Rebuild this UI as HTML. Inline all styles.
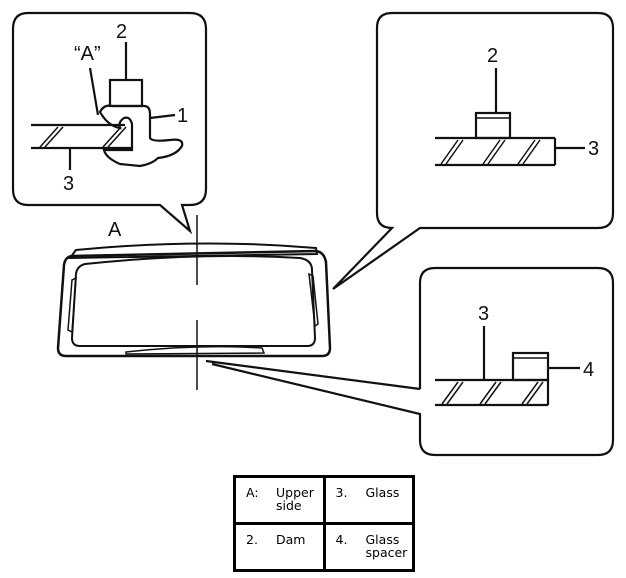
<!DOCTYPE html>
<html><head><meta charset="utf-8"><style>
body{margin:0;background:#fff;width:626px;height:578px;overflow:hidden}
svg{position:absolute;left:0;top:0}
.t{font-family:"Liberation Sans",sans-serif;font-size:20px;fill:#111}
table{position:absolute;left:233px;top:475px;width:182px;height:97px;border-collapse:collapse;border:3px solid #000;font-family:"DejaVu Sans","Liberation Sans",sans-serif;font-size:12.5px;line-height:13px}
td{border:3px solid #000;vertical-align:top;padding:8px 0 0 10px;width:50%}
span.n{display:inline-block;width:30px;vertical-align:top}
span.v{display:inline-block;vertical-align:top}
</style></head><body>
<svg width="626" height="578" viewBox="0 0 626 578" fill="none" stroke="#111" stroke-width="2.2">
<path d="M28 13 H190 Q206 13 206 29 V189 Q206 205 190 205 H182 L190 231 L160 205 H28 Q13 205 13 189 V29 Q13 13 28 13 Z"/>
<text class="t" x="116" y="38" stroke="none">2</text>
<text class="t" x="74" y="60" stroke="none" font-size="18">“A”</text>
<line x1="126" y1="42" x2="126" y2="80"/>
<rect x="110" y="80" width="32" height="26"/>
<line x1="90" y1="68" x2="98" y2="115"/>
<path d="M100 112 Q104 104 112 106 H144 Q150 106 150 114 V138 Q152 142 170 140 Q184 138 182 146 Q176 156 158 158 Q152 164 140 166 L120 164 Q106 158 104 150 H132 V124 Q130 116 124 118 Q118 122 120 128 Q108 126 100 112 Z"/>
<line x1="150" y1="118" x2="175" y2="115"/>
<text class="t" x="177" y="122" stroke="none">1</text>
<line x1="31" y1="125" x2="125" y2="125"/>
<line x1="31" y1="148" x2="132" y2="148"/>
<line x1="40" y1="147" x2="58" y2="127" stroke-width="1.5"/><line x1="45" y1="147" x2="63" y2="127" stroke-width="1.5"/>
<line x1="103" y1="147" x2="121" y2="127" stroke-width="1.5"/><line x1="108" y1="147" x2="126" y2="127" stroke-width="1.5"/>
<line x1="70" y1="149" x2="70" y2="170"/>
<text class="t" x="63" y="190" stroke="none">3</text>
<text class="t" x="108" y="236" stroke="none">A</text>
<line x1="197" y1="215" x2="197" y2="285" stroke-width="1.5"/>
<line x1="197" y1="320" x2="197" y2="390" stroke-width="1.5"/>
<path d="M76 250 Q200 238 316 248 L317 254 L70 258 Z" stroke-width="2"/>
<path d="M72 256 L316 251 Q324 252 326 262 L330 348 Q330 356 322 356 H66 Q58 356 58 348 L64 265 Q65 257 72 256 Z" stroke-width="2.5"/>
<path d="M85 264 Q200 252 300 258 Q312 260 312 270 L315 338 Q315 346 307 346 H80 Q72 346 72 338 L76 274 Q77 266 85 264 Z" stroke-width="2"/>
<path d="M76 278 L72 332 L68 330 L72 280 Z" stroke-width="1.5"/>
<path d="M309 274 L315 326 L318 324 L313 276 Z" stroke-width="1.5"/>
<path d="M126 352 Q200 344 262 348 L264 353 L126 354 Z" stroke-width="1.5"/>
<path d="M392 13 H598 Q613 13 613 28 V213 Q613 228 598 228 H420 L333 289 L392 228 H392 Q377 228 377 213 V28 Q377 13 392 13 Z"/>
<text class="t" x="487" y="62" stroke="none">2</text>
<line x1="496" y1="68" x2="496" y2="113"/>
<rect x="476" y="113" width="34" height="25"/>
<line x1="476" y1="118" x2="510" y2="118" stroke-width="1.5"/>
<line x1="435" y1="138" x2="555" y2="138"/>
<line x1="435" y1="165" x2="555" y2="165"/><line x1="555" y1="138" x2="555" y2="165"/>
<g stroke-width="1.5"><line x1="441" y1="164" x2="458" y2="140"/><line x1="446" y1="164" x2="463" y2="140"/>
<line x1="483" y1="164" x2="500" y2="140"/><line x1="488" y1="164" x2="505" y2="140"/>
<line x1="518" y1="164" x2="535" y2="140"/><line x1="523" y1="164" x2="540" y2="140"/></g>
<line x1="555" y1="148" x2="585" y2="148"/>
<text class="t" x="588" y="155" stroke="none">3</text>
<path d="M420 389 V283 Q420 268 435 268 H598 Q613 268 613 283 V440 Q613 455 598 455 H435 Q420 455 420 440 V414 L212 364 M420 389 L206 361"/>
<text class="t" x="478" y="320" stroke="none">3</text>
<line x1="484" y1="326" x2="484" y2="380"/>
<rect x="513" y="353" width="35" height="27"/>
<line x1="513" y1="358" x2="548" y2="358" stroke-width="1.5"/>
<line x1="435" y1="380" x2="548" y2="380"/>
<line x1="435" y1="405" x2="548" y2="405"/><line x1="548" y1="380" x2="548" y2="405"/>
<g stroke-width="1.5"><line x1="442" y1="404" x2="458" y2="382"/><line x1="447" y1="404" x2="463" y2="382"/>
<line x1="480" y1="404" x2="496" y2="382"/><line x1="485" y1="404" x2="501" y2="382"/>
<line x1="522" y1="404" x2="538" y2="382"/><line x1="527" y1="404" x2="543" y2="382"/></g>
<line x1="548" y1="368" x2="580" y2="368"/>
<text class="t" x="583" y="376" stroke="none">4</text>
</svg>
<table>
<tr><td><span class="n">A:</span><span class="v">Upper<br>side</span></td><td><span class="n">3.</span><span class="v">Glass</span></td></tr>
<tr><td><span class="n">2.</span><span class="v">Dam</span></td><td><span class="n">4.</span><span class="v">Glass<br>spacer</span></td></tr>
</table>
</body></html>
